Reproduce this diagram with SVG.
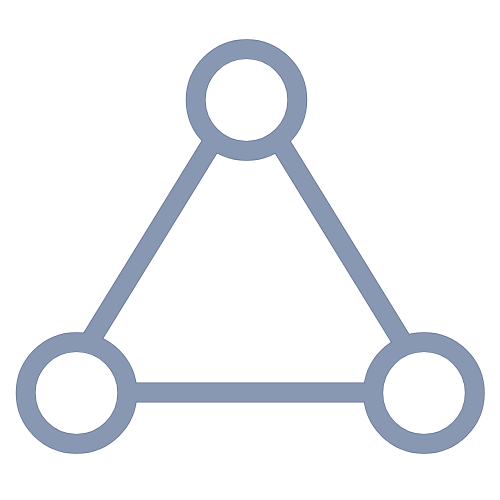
<svg xmlns="http://www.w3.org/2000/svg" width="500" height="500" viewBox="0 0 500 500">
  <style>
    .edge { stroke: #56668c; fill: none; }
    .body { stroke: #8898b3; fill: none; }
    .ln.edge { stroke-width: 20; }
    .ln.body { stroke-width: 18.6; }
    .rg.edge { stroke-width: 19.8; }
    .rg.body { stroke-width: 18.4; }
  </style>
  <rect width="500" height="500" fill="#ffffff"/>
  <g id="edges-outline">
    <line class="ln edge" x1="213.7" y1="140" x2="88.8" y2="343"/>
    <line class="ln edge" x1="278.3" y1="140" x2="403.2" y2="343"/>
    <line class="ln edge" x1="127" y1="392.5" x2="373" y2="392.5"/>
    <circle class="rg edge" cx="246.5" cy="100" r="50.8"/>
    <circle class="rg edge" cx="76.5" cy="393" r="50.8"/>
    <circle class="rg edge" cx="424" cy="393" r="50.8"/>
  </g>
  <g id="connectors">
    <line class="ln body" x1="213.7" y1="140" x2="88.8" y2="343"/>
    <line class="ln body" x1="278.3" y1="140" x2="403.2" y2="343"/>
    <line class="ln body" x1="127" y1="392.5" x2="373" y2="392.5"/>
  </g>
  <g id="node-top">
    <circle class="rg body" cx="246.5" cy="100" r="50.8"/>
  </g>
  <g id="node-left">
    <circle class="rg body" cx="76.5" cy="393" r="50.8"/>
  </g>
  <g id="node-right">
    <circle class="rg body" cx="424" cy="393" r="50.8"/>
  </g>
</svg>
